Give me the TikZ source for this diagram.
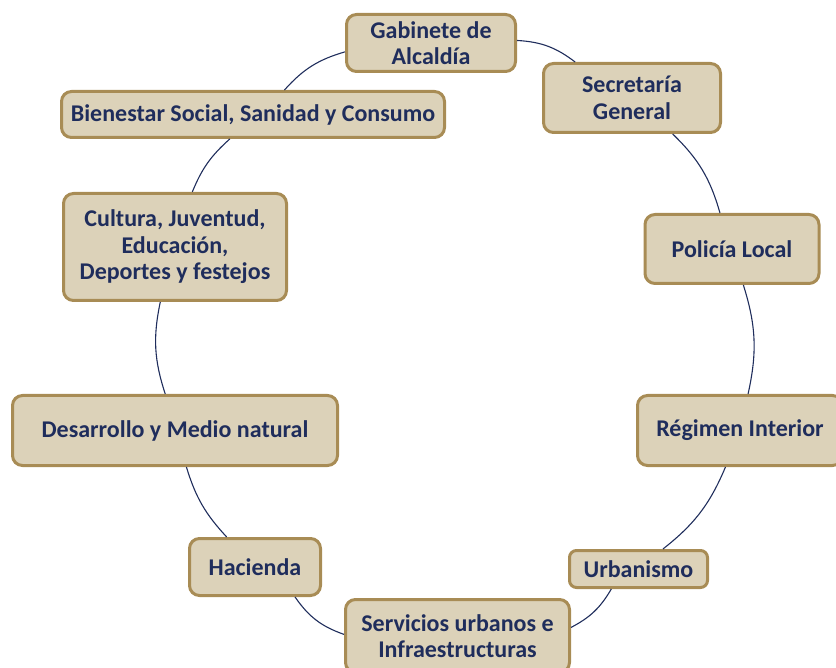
\documentclass[tikz,border=0pt]{standalone}
\usepackage{fontspec}
\setmainfont{Carlito}
\definecolor{boxfill}{RGB}{220,210,185}
\definecolor{boxline}{RGB}{168,140,85}
\definecolor{navy}{RGB}{31,45,92}
\tikzset{
  unit/.style={draw=boxline, line width=3pt, fill=boxfill, rounded corners=10pt,
    align=center, text=navy, inner sep=2pt,
    font=\fontsize{24}{26.5}\selectfont\bfseries},
  ring/.style={draw=navy, line width=1.1pt}
}
\begin{document}
\begin{tikzpicture}[x=1pt,y=-1pt]
  \useasboundingbox (0,0) rectangle (836,668);
  \clip (0,0) rectangle (836,668);

  \node[unit, minimum width=169pt, minimum height=57pt] (gab) at (431,43) {Gabinete de\\Alcaldía};
  \node[unit, minimum width=177pt, minimum height=69pt] (sec) at (632,98) {Secretaría\\General};
  \node[unit, minimum width=174pt, minimum height=69pt] (pol) at (732,249) {Policía Local};
  \node[unit, minimum width=205pt, minimum height=70pt] (reg) at (740,430.5) {Régimen Interior};
  \node[unit, minimum width=138pt, minimum height=37pt, rounded corners=7pt] (urb) at (638.5,569) {Urbanismo};
  \node[unit, minimum width=224pt, minimum height=73pt] (serv) at (457.5,636) {Servicios urbanos e\\Infraestructuras};
  \node[unit, minimum width=131pt, minimum height=57pt] (hac) at (255,567) {Hacienda};
  \node[unit, minimum width=325pt, minimum height=70pt] (des) at (175,430.5) {Desarrollo y Medio natural};
  \node[unit, minimum width=223pt, minimum height=107pt] (cul) at (175,247) {Cultura, Juventud,\\Educación,\\Deportes y festejos};
  \node[unit, minimum width=383pt, minimum height=46pt] (bien) at (253,114.5) {Bienestar Social, Sanidad y Consumo};

  \draw[ring] (gab) to[bend left=17] (sec);
  \draw[ring] (sec) to[bend left=15] (pol);
  \draw[ring] (pol) to[bend left=15] (reg);
  \draw[ring] (reg) to[bend left=14.5] (urb);
  \draw[ring] (urb) to[bend left=16] (serv);
  \draw[ring] (serv) to[bend left=18] (hac);
  \draw[ring] (hac) to[bend left=13] (des);
  \draw[ring] (des) to[bend left=15] (cul);
  \draw[ring] (cul) to[bend left=13] (bien);
  \draw[ring] (bien) to[bend left=16] (gab);
\end{tikzpicture}
\end{document}
